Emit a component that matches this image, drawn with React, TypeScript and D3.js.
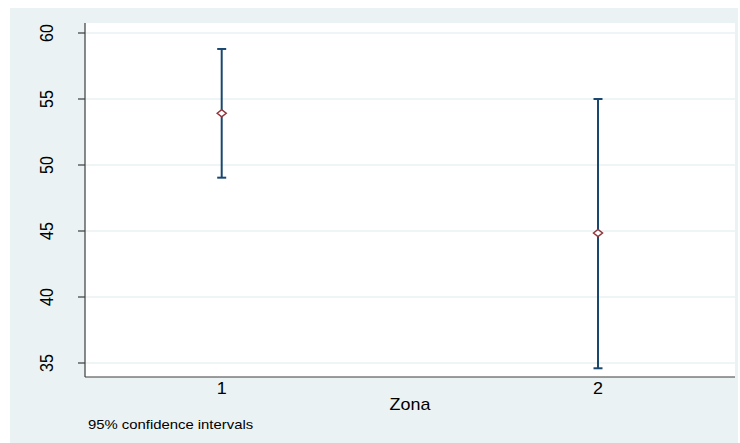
import React from "react";
import * as d3 from "d3";

const zones = [1, 2];
const means = [53.92, 44.85];
const lowers = [49.04, 34.6];
const uppers = [58.79, 55.0];
const yTicks = [35, 40, 45, 50, 55, 60];
const xTickLabels = ["1", "2"];

const W = 740;
const H = 443;

export default function App() {
  const x = d3.scaleLinear().domain([1, 2]).range([221.7, 598]);
  const y = d3.scaleLinear().domain([35, 60]).range([363, 33]);
  const plotL = 85, plotR = 735, plotT = 23, plotB = 377;
  const font = "'Liberation Sans', Arial, Helvetica, sans-serif";
  const navy = "#1a476f";
  const red = "#90353b";
  const sx = 1.12;
  const diamond = (cx: number, cy: number) =>
    `M${cx - 4.5},${cy} L${cx},${cy - 3.5} L${cx + 4.5},${cy} L${cx},${cy + 3.5} Z`;

  return (
    <svg
      width={W}
      height={H}
      style={{ position: "absolute", left: 0, top: 0, display: "block" }}
    >
      <rect x={0} y={0} width={W} height={H} fill="#ffffff" />
      <rect x={10} y={8} width={728} height={435} fill="#eaf2f3" />
      <rect x={plotL} y={plotT} width={plotR - plotL} height={plotB - plotT} fill="#ffffff" />
      {yTicks.map((t) => (
        <line key={"g" + t} x1={plotL} x2={plotR} y1={y(t)} y2={y(t)} stroke="#eaf2f3" strokeWidth={1.5} />
      ))}
      <line x1={plotL} x2={plotL} y1={plotT} y2={plotB} stroke="#3c3c3c" strokeWidth={1.2} />
      <line x1={plotL} x2={plotR} y1={plotB} y2={plotB} stroke="#3c3c3c" strokeWidth={1.2} />
      {yTicks.map((t) => (
        <g key={"t" + t}>
          <line x1={78} x2={plotL} y1={y(t)} y2={y(t)} stroke="#3c3c3c" strokeWidth={1.2} />
          <text
            transform={`translate(53,${y(t)}) scale(${sx},1) rotate(-90)`}
            textAnchor="middle"
            fontFamily={font}
            fontSize={16}
            fill="#000"
          >
            {t}
          </text>
        </g>
      ))}
      {zones.map((z, i) => (
        <text
          key={"xl" + z}
          transform={`translate(${x(z)},394) scale(${sx},1)`}
          textAnchor="middle"
          fontFamily={font}
          fontSize={16}
          fill="#000"
        >
          {xTickLabels[i]}
        </text>
      ))}
      <text
        transform={`translate(410,410) scale(${sx},1)`}
        textAnchor="middle"
        fontFamily={font}
        fontSize={16}
        fill="#000"
      >
        Zona
      </text>
      <text
        transform={`translate(88,429) scale(1.18,1)`}
        textAnchor="start"
        fontFamily={font}
        fontSize={12.6}
        fill="#000"
      >
        95% confidence intervals
      </text>
      {zones.map((z, i) => {
        const cx = x(z);
        return (
          <g key={"e" + z}>
            <line x1={cx} x2={cx} y1={y(uppers[i])} y2={y(lowers[i])} stroke={navy} strokeWidth={2} />
            <line x1={cx - 4.5} x2={cx + 4.5} y1={y(uppers[i])} y2={y(uppers[i])} stroke={navy} strokeWidth={2} />
            <line x1={cx - 4.5} x2={cx + 4.5} y1={y(lowers[i])} y2={y(lowers[i])} stroke={navy} strokeWidth={2} />
            <path d={diamond(cx, y(means[i]))} fill="#ffffff" stroke={red} strokeWidth={1.5} />
          </g>
        );
      })}
    </svg>
  );
}
